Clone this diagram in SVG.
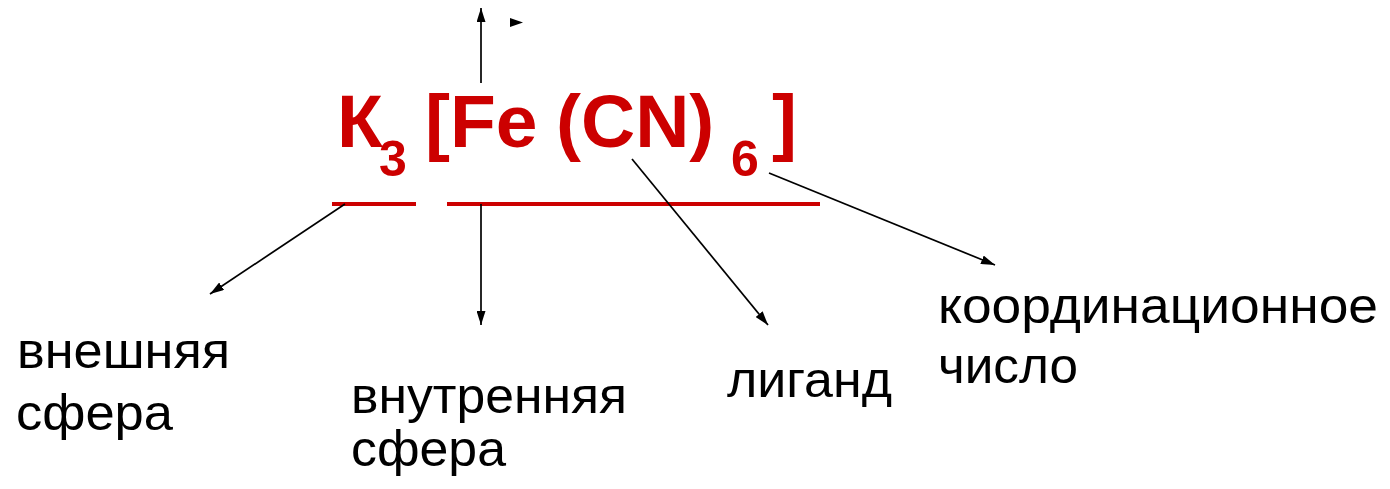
<svg xmlns="http://www.w3.org/2000/svg" width="1390" height="489" viewBox="0 0 1390 489">
<style>
.f{font-family:"Liberation Sans",Arial,sans-serif;font-weight:bold;fill:#CC0000}
.l{font-family:"Liberation Sans",Arial,sans-serif;font-size:50px;fill:#000}
.c{stroke:#000;stroke-width:1.7;fill:none}
.u{stroke:#CC0000;stroke-width:4}
</style>
<defs>
<marker id="ah" viewBox="0 0 14 9" refX="14" refY="4.5" markerWidth="14" markerHeight="9" markerUnits="userSpaceOnUse" orient="auto">
<path d="M0,0 L14,4.5 L0,9 Z" fill="#000"/>
</marker>
</defs>
<rect width="1390" height="489" fill="#fff"/>
<g id="formula">
<text class="f" x="337" y="147" font-size="75">К</text>
<text class="f" x="379" y="176" font-size="50">3</text>
<text class="f" x="425" y="147" font-size="75">[Fe</text>
<text class="f" x="556" y="147" font-size="75">(CN)</text>
<text class="f" x="731" y="176" font-size="50">6</text>
<text class="f" x="772" y="147" font-size="75">]</text>
<line class="u" x1="332" y1="204" x2="416" y2="204"/>
<line class="u" x1="447" y1="204" x2="820" y2="204"/>
</g>
<g id="label-outer">
<text class="l" x="17" y="368" textLength="213" lengthAdjust="spacingAndGlyphs">внешняя</text>
<text class="l" x="16" y="430" textLength="157" lengthAdjust="spacingAndGlyphs">сфера</text>
</g>
<g id="label-inner">
<text class="l" x="351" y="413" textLength="276" lengthAdjust="spacingAndGlyphs">внутренняя</text>
<text class="l" x="351" y="466" textLength="155" lengthAdjust="spacingAndGlyphs">сфера</text>
</g>
<g id="label-ligand">
<text class="l" x="727" y="397" textLength="165" lengthAdjust="spacingAndGlyphs">лиганд</text>
</g>
<g id="label-cn">
<text class="l" x="938" y="323" textLength="440" lengthAdjust="spacingAndGlyphs">координационное</text>
<text class="l" x="938" y="383" textLength="140" lengthAdjust="spacingAndGlyphs">число</text>
</g>
<g id="connectors">
<line class="c" x1="481" y1="83" x2="481" y2="8" marker-end="url(#ah)"/>
<path d="M510,18 L523,22.5 L510,27 Z" fill="#000"/>
<line class="c" x1="345" y1="204" x2="210" y2="294" marker-end="url(#ah)"/>
<line class="c" x1="481" y1="204" x2="481" y2="325" marker-end="url(#ah)"/>
<line class="c" x1="632" y1="159" x2="768" y2="325" marker-end="url(#ah)"/>
<line class="c" x1="769" y1="173" x2="995" y2="265" marker-end="url(#ah)"/>
</g>
</svg>
